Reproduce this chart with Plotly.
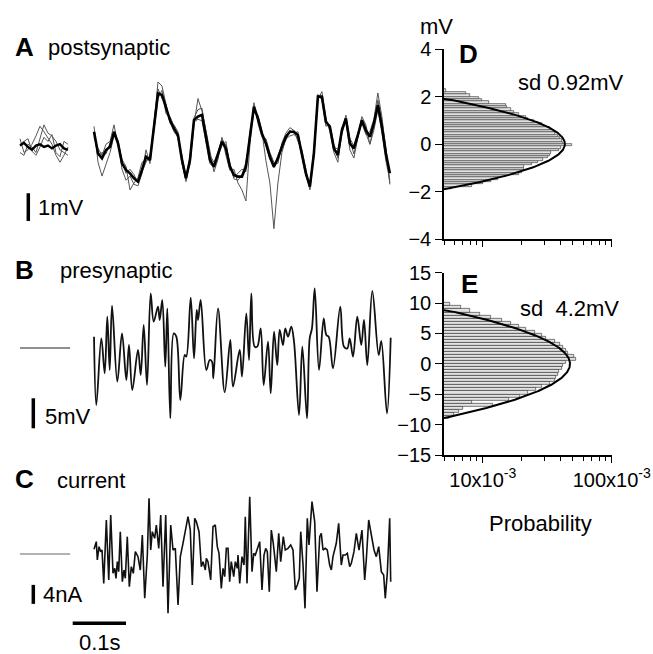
import numpy as np
import plotly.graph_objects as go

# ---------------- DATA ----------------
# Panel A: postsynaptic potential (mV), sampled every 7.5 ms starting at 1.9 ms
A_t0_ms = 1.9
A_dt_ms = 7.5
A_mean = [0.55,-0.23,-0.41,-0.11,0.01,0.55,0.13,-0.59,-0.83,-0.95,
          -1.13,-1.25,-0.83,-0.35,-0.47,0.73,1.94,1.88,1.40,0.97,
          0.67,0.43,-0.47,-1.13,-0.47,0.97,1.10,1.16,0.37,-0.47,
          -0.71,-0.29,0.19,-0.05,-0.71,-1.01,-1.07,-1.07,-0.71,0.37,
          1.46,1.03,0.49,0.13,-0.35,-0.71,-0.41,0.01,0.37,0.55,
          0.55,0.43,-0.23,-0.95,-1.43,-0.23,1.82,1.82,0.91,0.73,
          -0.05,-0.29,0.61,1.03,0.13,-0.05,0.43,0.97,0.61,0.37,
          0.85,1.52,0.73,-0.23,-0.95]
A_trial1 = [0.75,-0.55,-1.05,-0.60,-0.20,0.40,0.20,-0.80,-1.20,-1.05,
            -1.35,-1.40,-0.95,-0.10,-0.60,0.80,2.35,2.20,1.50,0.90,
            0.55,0.35,-0.60,-1.20,-0.30,1.05,1.35,1.40,0.55,-0.30,
            -0.55,-0.20,0.30,0.05,-0.60,-1.15,-1.20,-1.00,-0.55,0.30,
            1.25,1.15,0.55,-0.50,-1.30,-2.95,-1.30,-0.20,0.30,0.40,
            0.45,0.35,-0.35,-1.05,-1.35,-0.10,1.90,1.70,0.75,0.80,
            0.10,-0.40,0.45,1.00,0.25,-0.25,0.35,0.90,0.50,0.10,
            0.75,1.70,0.95,0.00,-1.35]
A_trial2 = [0.35,-0.05,-0.30,0.10,0.20,0.80,0.05,-0.45,-0.70,-1.55,
            -1.30,-1.10,-0.55,-0.50,-0.30,0.60,1.75,2.05,1.20,1.10,
            0.75,0.30,-0.30,-1.05,-0.65,0.80,1.75,1.30,0.60,-0.15,
            -0.90,-0.45,0.35,-0.30,-0.85,-0.80,-1.30,-1.55,-1.95,0.10,
            1.60,0.85,0.35,0.30,-0.20,-0.55,-0.60,0.15,0.50,0.70,
            0.60,0.20,-0.10,-0.80,-1.55,-0.35,1.70,2.00,1.05,0.55,
            -0.20,-0.55,0.70,0.95,-0.10,-0.40,0.30,1.10,0.80,0.10,
            0.60,1.35,0.55,-0.50,-1.20]
A_trial3 = [0.50,-0.30,-0.20,-0.25,0.15,0.45,0.25,-0.50,-0.95,-0.80,
            -1.00,-1.30,-0.90,-0.55,-0.35,0.85,2.10,1.75,1.55,0.85,
            0.80,0.55,-0.55,-1.25,-0.50,0.90,1.00,0.95,0.20,-0.60,
            -0.75,-0.35,0.05,0.20,-0.75,-1.10,-0.95,-0.80,-0.90,0.55,
            1.40,1.10,0.55,0.05,-0.45,-0.75,-0.30,0.05,0.25,0.60,
            0.50,0.55,-0.30,-1.00,-1.50,-0.20,1.85,1.75,0.95,0.65,
            0.05,-0.10,0.55,1.15,0.30,0.05,0.50,0.85,0.45,0.55,
            1.00,1.95,1.10,-0.05,-1.30]
# Panel A baseline segment (before stimulation), from -137 ms every 7.5 ms
A_pre_t0_ms = -137.0
A_pre_mean = [0.05,0.15,0.00,-0.10,0.05,0.10,0.00,0.05,-0.05,0.05,0.10,-0.05,-0.10]
A_pre_trial1 = [0.30,-0.20,-0.10,0.10,0.40,0.75,0.55,0.30,0.10,-0.30,-0.55,-0.30,0.00]
A_pre_trial2 = [-0.20,-0.30,0.10,0.00,-0.20,0.30,0.80,0.50,0.40,0.20,-0.10,-0.20,-0.30]
A_pre_trial3 = [0.10,0.20,0.30,-0.15,-0.30,0.00,0.35,0.20,0.45,-0.20,-0.35,0.20,0.10]

# Panel B: presynaptic potential (mV) – turning points
B_t_ms = [1.9,6.2,15.6,21.9,26.8,31.3,35.7,45.6,54.4,62.5,67.5,73.7,84.4,89.5,95.1,
          101.3,108.2,113.8,121.9,125.1,130.0,135.6,139.4,145.0,151.4,156.3,163.8,172.0,
          175.0,183.3,189.5,194.5,197.0,202.0,212.6,218.9,223.2,225.7,234.5,247.1,257.6,
          262.6,275.2,279.5,287.6,292.7,297.0,303.3,308.2,314.6,320.2,328.3,333.4,339.6,
          345.7,350.2,356.4,360.7,365.8,372.0,377.1,386.5,392.7,401.5,406.5,410.8,415.9,
          424.0,432.8,437.7,442.2,450.2,463.9,470.9,477.1,481.6,487.8,495.8,503.3,508.4,
          514.6,524.0,536.0,540.9,551.5,558.5]
B_mV = [1.89,-9.5,1.61,-4.22,5.22,-3.67,7.06,-5.61,2.44,-5.33,0.5,-7.0,-0.33,-4.5,3.83,
        -6.17,9.11,4.39,6.89,4.67,8.0,-3.11,6.61,-11.72,2.44,1.89,-8.67,-1.17,
        -1.44,8.39,-1.72,6.33,4.67,8.0,-3.67,-2.0,-2.28,-5.06,6.61,-7.39,1.33,
        -6.44,-0.33,-4.78,5.78,-2.0,9.11,0.22,0.22,3.28,-6.17,1.06,-7.56,2.72,
        -2.83,3.0,0.5,3.28,1.89,3.56,1.06,-11.17,0.22,-11.72,1.61,3.28,9.94,
        -3.67,4.94,2.17,1.89,-3.39,6.89,0.22,-0.06,1.61,-1.44,5.22,0.5,4.67,
        -2.83,9.5,-1.17,1.17,-10.89,1.72]
B_pre_t_ms = [-137.0, -43.0]
B_pre_mV = [0.0, 0.0]

# Panel C: injected current (nA)
C_t_ms = [1.9,6.2,8.1,11.3,14.4,16.9,20.1,25.0,29.5,33.2,37.5,40.7,43.1,45.6,48.2,51.2,55.0,
          58.2,60.6,64.3,68.1,71.9,75.6,79.4,84.4,88.7,92.5,97.0,101.9,105.1,108.2,111.2,
          115.7,118.8,123.3,127.0,131.3,136.4,140.7,145.8,150.1,154.4,159.5,163.8,168.8,
          175.0,178.2,182.5,186.3,190.8,193.8,198.9,203.2,206.4,210.7,212.6,215.7,220.8,
          225.1,229.4,233.2,236.4,240.7,243.9,247.1,250.1,253.3,256.4,259.4,264.0,267.0,
          270.7,272.0,275.2,279.5,283.3,285.7,288.9,294.0,298.3,301.5,304.5,308.2,312.7,
          317.0,320.8,324.0,327.0,330.7,334.5,338.2,340.9,343.9,348.4,352.1,357.0,360.7,
          365.8,370.9,375.2,379.5,383.3,387.0,389.7,394.0,397.7,402.0,405.2,410.8,415.9,
          420.2,425.3,428.3,431.5,435.8,439.5,444.0,447.1,450.2,456.4,460.9,465.8,469.0,
          473.3,477.1,481.6,484.6,489.6,494.0,499.0,504.6,509.7,512.7,517.2,522.1,527.2,
          531.5,536.0,540.9,545.3,548.3,552.1,556.6,558.5]
C_nA = [0.98,2.60,-1.26,1.54,0.49,0.84,-6.18,7.16,-5.47,8.21,-4.07,-3.02,-5.12,-1.61,-3.72,4.70,-5.82,
        -3.37,-5.12,3.65,-6.88,-2.67,-4.07,0.49,-0.56,-3.37,4.00,-9.33,-0.21,11.72,0.84,4.70,
        3.30,6.11,1.19,8.21,-6.88,8.21,-12.49,6.11,0.84,1.19,-10.74,-0.56,2.25,
        6.46,7.86,5.05,-6.53,7.51,6.81,4.70,-2.67,-1.61,-3.37,-0.91,-1.61,-5.47,
        5.75,6.11,1.54,0.14,-7.23,-3.02,-4.77,1.19,1.19,-5.82,-1.61,-4.77,-1.61,
        -3.02,-0.21,-6.18,-0.56,-2.32,7.86,-6.18,12.07,-3.72,0.14,-0.21,1.19,2.60,
        -7.58,-0.21,1.19,0.49,-7.93,5.05,2.25,-0.56,-3.72,4.35,-1.61,3.65,0.84,
        1.19,1.89,0.84,-7.58,-6.53,-5.12,4.70,-2.32,-11.44,7.51,1.89,11.02,6.81,
        -7.93,3.65,4.35,0.84,1.19,0.84,-2.32,-3.37,-0.56,2.25,6.46,-2.32,-0.21,
        -0.21,0.14,-2.67,-1.96,0.49,4.35,0.84,5.05,-5.47,-1.26,7.16,3.65,0.84,
        -0.56,1.54,-3.72,-4.42,-9.33,-4.07,7.51,-5.82]
C_pre_t_ms = [-137.0, -43.0]
C_pre_nA = [0.0, 0.0]

# Panel D: amplitude histogram of postsynaptic potential (bins of 0.1 mV)
D_bin_mV = 0.1
D_first_center = -1.85
D_prob = [0.0058,0.0082,0.0100,0.0115,0.0130,0.0150,0.0190,0.0200,0.0210,0.0210,
          0.0240,0.0270,0.0295,0.0320,0.0330,0.0335,0.0390,0.0405,0.0490,0.0420,
          0.0410,0.0400,0.0380,0.0365,0.0355,0.0330,0.0300,0.0290,0.0250,0.0225,
          0.0215,0.0190,0.0175,0.0165,0.0155,0.0150,0.0112,0.0098,0.0094,0.0080,
          0.0074,0.0052]
D_sd = 0.92

# Panel E: amplitude histogram of presynaptic potential (bins of 0.5 mV)
E_bin_mV = 0.5
E_first_center = -8.75
E_prob = [0.0055,0.0060,0.0065,0.0070,0.0120,0.0082,0.0160,0.0195,0.0225,0.0260,
          0.0290,0.0330,0.0360,0.0370,0.0385,0.0390,0.0410,0.0420,0.0440,0.0530,
          0.0510,0.0460,0.0445,0.0420,0.0400,0.0365,0.0310,0.0290,0.0255,0.0215,
          0.0190,0.0165,0.0140,0.0115,0.0095,0.0080,0.0068,0.0056]
E_sd = 4.2

x_tickvals = [0.01, 0.1]
x_ticktext = ["10x10<sup>-3</sup>", "100x10<sup>-3</sup>"]
x_minor = [0.005,0.006,0.007,0.008,0.009,0.02,0.03,0.04,0.05,0.06,0.07,0.08,0.09]

# ---------------- FIGURE ----------------
W, H = 653, 654
def px(x): return x / W
def py(y): return 1 - y / H

FONT = "Liberation Sans, Arial, sans-serif"
fig = go.Figure()

A_t = A_t0_ms + A_dt_ms * np.arange(len(A_mean))
A_pre_t = A_pre_t0_ms + A_dt_ms * np.arange(len(A_pre_mean))
for tr in (A_trial1, A_trial2, A_trial3):
    fig.add_trace(go.Scatter(x=A_t, y=tr, mode="lines", line=dict(color="#555", width=1),
                             xaxis="x3", yaxis="y3", showlegend=False))
for tr in (A_pre_trial1, A_pre_trial2, A_pre_trial3):
    fig.add_trace(go.Scatter(x=A_pre_t, y=tr, mode="lines", line=dict(color="#555", width=1),
                             xaxis="x3", yaxis="y3", showlegend=False))
fig.add_trace(go.Scatter(x=A_t, y=A_mean, mode="lines", line=dict(color="black", width=2.6),
                         xaxis="x3", yaxis="y3", showlegend=False))
fig.add_trace(go.Scatter(x=A_pre_t, y=A_pre_mean, mode="lines", line=dict(color="black", width=2.4),
                         xaxis="x3", yaxis="y3", showlegend=False))

fig.add_trace(go.Scatter(x=B_t_ms, y=B_mV, mode="lines",
                         line=dict(color="#111", width=1.8, shape="spline", smoothing=1.0),
                         xaxis="x4", yaxis="y4", showlegend=False))
fig.add_trace(go.Scatter(x=B_pre_t_ms, y=B_pre_mV, mode="lines", line=dict(color="#222", width=1.1),
                         xaxis="x4", yaxis="y4", showlegend=False))

fig.add_trace(go.Scatter(x=C_t_ms, y=C_nA, mode="lines", line=dict(color="#111", width=1.6),
                         xaxis="x5", yaxis="y5", showlegend=False))
fig.add_trace(go.Scatter(x=C_pre_t_ms, y=C_pre_nA, mode="lines", line=dict(color="#666", width=1.2),
                         xaxis="x5", yaxis="y5", showlegend=False))

# histograms + gaussian fits
D_centers = D_first_center + D_bin_mV * np.arange(len(D_prob))
E_centers = E_first_center + E_bin_mV * np.arange(len(E_prob))
for centers, prob, w, sd, xa, ya in ((D_centers, D_prob, D_bin_mV, D_sd, "x", "y"),
                                     (E_centers, E_prob, E_bin_mV, E_sd, "x2", "y2")):
    fig.add_trace(go.Bar(y=centers, x=prob, orientation="h", width=w, base=1e-5,
                         marker=dict(color="#e2e2e2", line=dict(color="#444", width=0.7)),
                         xaxis=xa, yaxis=ya, showlegend=False))
    v = np.linspace(-3 * sd - 1, 3 * sd + 1, 400)
    fit = w / (sd * np.sqrt(2 * np.pi)) * np.exp(-v ** 2 / (2 * sd ** 2))
    fig.add_trace(go.Scatter(y=v, x=fit, mode="lines", line=dict(color="black", width=2),
                             xaxis=xa, yaxis=ya, showlegend=False))

axis_common = dict(showgrid=False, zeroline=False, showline=True, linecolor="black", linewidth=1.5,
                   ticks="outside", tickcolor="black", tickwidth=1.3, automargin=False,
                   tickfont=dict(family=FONT, size=20, color="black"))
xlog = dict(type="log", range=[np.log10(0.005), -1], tickvals=x_tickvals, ticktext=x_ticktext,
            ticklen=6, minor=dict(tickvals=x_minor, ticks="outside", ticklen=4,
                                   tickcolor="black", tickwidth=1.2),
            **axis_common)
left_x = dict(domain=[0, px(410)], range=[-174.5, 594.7], visible=False, automargin=False)
hid_y = dict(visible=False, automargin=False)
fig.update_layout(
    width=W, height=H, margin=dict(l=0, r=0, t=0, b=0, autoexpand=False),
    paper_bgcolor="white", plot_bgcolor="rgba(0,0,0,0)",
    bargap=0, barmode="overlay",
    xaxis=dict(domain=[px(444), px(611.7)], anchor="y", showticklabels=False, **xlog),
    yaxis=dict(domain=[py(239), py(49)], anchor="x", range=[-4, 4], tickvals=[-4, -2, 0, 2, 4],
               ticklen=7, **axis_common),
    xaxis2=dict(domain=[px(444), px(611.7)], anchor="y2", **xlog),
    yaxis2=dict(domain=[py(455), py(272.7)], anchor="x2", range=[-15, 15],
                tickvals=[-15, -10, -5, 0, 5, 10, 15], ticklen=7, **axis_common),
    xaxis3=dict(anchor="y3", **left_x),
    yaxis3=dict(domain=[py(250), py(60)], anchor="x3", range=[(147 - 250) / 27.7, (147 - 60) / 27.7], **hid_y),
    xaxis4=dict(anchor="y4", **left_x),
    yaxis4=dict(domain=[py(440), py(270)], anchor="x4", range=[(348 - 440) / 6, (348 - 270) / 6], **hid_y),
    xaxis5=dict(anchor="y5", **left_x),
    yaxis5=dict(domain=[py(640), py(480)], anchor="x5", range=[(554 - 640) / 4.75, (554 - 480) / 4.75], **hid_y),
)

# scale bars
bar = dict(type="line", line=dict(color="black", width=3.5))
fig.add_shape(xref="x3", yref="y3", x0=-121.4, x1=-121.4, y0=-1.67, y1=-2.67, **bar)
fig.add_shape(xref="x4", yref="y4", x0=-112, x1=-112, y0=-8.38, y1=-13.38, **bar)
fig.add_shape(xref="x5", yref="y5", x0=-112, x1=-112, y0=-6.5, y1=-10.5, **bar)
fig.add_shape(xref="x5", yref="y5", x0=-38.1, x1=61.9, y0=-14.6, y1=-14.6, **bar)

def label(text, x, y, size=22, bold=False, xanchor="left"):
    fig.add_annotation(text=f"<b>{text}</b>" if bold else text, xref="paper", yref="paper",
                       x=px(x), y=py(y), xanchor=xanchor, yanchor="middle", showarrow=False,
                       font=dict(family=FONT, size=size, color="black"))

label("A", 24, 47, 26, True, "center")
label("postsynaptic", 46, 47)
label("B", 24, 270, 26, True, "center")
label("presynaptic", 58, 270)
label("C", 24, 479, 26, True, "center")
label("current", 55, 480)
label("1mV", 36, 208)
label("5mV", 43, 416)
label("4nA", 41, 594)
label("0.1s", 100, 642, xanchor="center")
label("mV", 436, 26, xanchor="center")
label("D", 468, 54, 26, True, "center")
label("E", 469, 284, 26, True, "center")
label("sd 0.92mV", 516, 83)
label("sd\u00a0\u00a04.2mV", 518, 308)
label("Probability", 540, 523, xanchor="center")

fig.write_html("out.html")
